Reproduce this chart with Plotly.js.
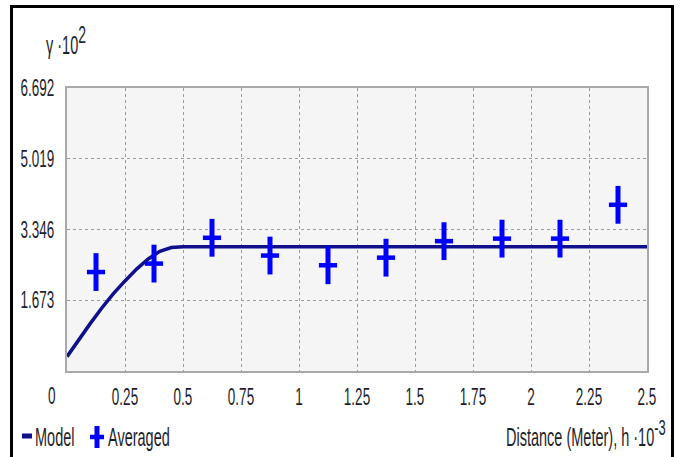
<!DOCTYPE html>
<html>
<head>
<meta charset="utf-8">
<script src="https://cdn.plot.ly/plotly-3.0.1.min.js"></script>
<style>
  html, body { margin: 0; padding: 0; background: #ffffff; }
  #wrap { position: relative; width: 682px; height: 457px; overflow: hidden; }
  #chart { position: absolute; left: 0; top: 0; width: 682px; height: 457px; }
  #frame { position: absolute; left: 10px; top: 5px; width: 664px; height: 470px;
           border: 3px solid #000; box-sizing: border-box; pointer-events: none; }
</style>
</head>
<body>
<div id="wrap">
  <div id="chart"></div>
  <div id="frame"></div>
</div>
<script>
// ---- data ----
var modelX = [0, 0.05, 0.1, 0.15, 0.2, 0.25, 0.3, 0.35, 0.4, 0.45, 0.5, 2.5];
var modelY = [0.34, 0.74, 1.12, 1.49, 1.83, 2.13, 2.41, 2.65, 2.83, 2.92, 2.94, 2.94];

var avgX = [0.125, 0.375, 0.625, 0.875, 1.125, 1.375, 1.625, 1.875, 2.125, 2.375];
var avgY = [2.34, 2.54, 3.15, 2.73, 2.50, 2.68, 3.07, 3.13, 3.13, 3.93];

var xTickVals = [0.25, 0.5, 0.75, 1, 1.25, 1.5, 1.75, 2, 2.25, 2.5];
var xTickText = ["0.25", "0.5", "0.75", "1", "1.25", "1.5", "1.75", "2", "2.25", "2.5"];
var yTickVals = [1.673, 3.346, 5.019, 6.692];
var yTickText = ["1.673", "3.346", "5.019", "6.692"];

var seriesNames = ["Model", "Averaged"];
var yTitle = "γ ·10<sup><span style=\"font-size:14px\">2</span></sup>";
var xTitle = "Distance (Meter), h ·10<sup><span style=\"font-size:13px\">-3</span></sup>";

// ---- styling ----
var FONT = "'Liberation Sans', Arial, sans-serif";
var FS = 13.5;
var TXT = "#1e1e2c";
var NAVY = "#10108c";
var BLUE = "#0000ff";
var STRETCH = 1.75;   // reference text is drawn tall and narrow

// plot area in pixels
var L = 67, R = 647, T = 88, B = 371;
function px(x) { return (x - L) / (R - L); }
function py(y) { return (B - y) / (B - T); }

var traces = [
  { x: modelX, y: modelY, type: "scatter", mode: "lines", name: seriesNames[0],
    line: { color: NAVY, width: 3.5 }, showlegend: false, hoverinfo: "x+y" },
  { x: avgX, y: avgY, type: "scatter", mode: "markers", name: seriesNames[1],
    marker: { symbol: "line-ns", size: 27, color: BLUE, line: { color: BLUE, width: 5 } },
    showlegend: false, hoverinfo: "x+y" },
  { x: avgX, y: avgY, type: "scatter", mode: "markers", name: seriesNames[1],
    marker: { symbol: "line-ew", size: 13, color: BLUE, line: { color: BLUE, width: 4.5 } },
    showlegend: false, hoverinfo: "skip" }
];

var tf = { family: FONT, size: FS, color: TXT };
var lf = { family: FONT, size: 14.5, color: TXT };

var layout = {
  width: 682, height: 457,
  margin: { l: L, r: 682 - R, t: T, b: 457 - B, pad: 0 },
  paper_bgcolor: "#ffffff",
  plot_bgcolor: "#f5f5f5",
  font: tf,
  showlegend: false,
  xaxis: {
    range: [0, 2.5], tickmode: "array", tickvals: xTickVals, ticktext: xTickText,
    showgrid: true, gridcolor: "#9c9c9c", griddash: "dot", gridwidth: 1,
    zeroline: false, showline: true, linecolor: "#a9a9a9", linewidth: 2, mirror: true,
    ticks: "outside", ticklen: 12, tickcolor: "rgba(0,0,0,0)",
    tickfont: tf, fixedrange: true
  },
  yaxis: {
    range: [0, 6.692], tickmode: "array", tickvals: yTickVals, ticktext: yTickText,
    showgrid: true, gridcolor: "#9c9c9c", griddash: "dot", gridwidth: 1,
    zeroline: false, showline: true, linecolor: "#a9a9a9", linewidth: 2, mirror: true,
    ticks: "outside", ticklen: 8, tickcolor: "rgba(0,0,0,0)",
    tickfont: tf, fixedrange: true
  },
  annotations: [
    { text: "0", xref: "paper", yref: "paper", x: px(52), y: py(396),
      xanchor: "center", yanchor: "middle", showarrow: false, font: tf },
    { text: yTitle, xref: "paper", yref: "paper", x: px(44), y: py(40),
      xanchor: "left", yanchor: "middle", showarrow: false, font: lf },
    { text: xTitle, xref: "paper", yref: "paper", x: px(668), y: py(432),
      xanchor: "right", yanchor: "middle", showarrow: false, font: lf },
    { text: seriesNames[0], xref: "paper", yref: "paper", x: px(33), y: py(437),
      xanchor: "left", yanchor: "middle", showarrow: false, font: lf },
    { text: seriesNames[1], xref: "paper", yref: "paper", x: px(106), y: py(437),
      xanchor: "left", yanchor: "middle", showarrow: false, font: lf }
  ],
  shapes: [
    // legend icons
    { type: "line", xref: "paper", yref: "paper", x0: px(22), x1: px(32), y0: py(436), y1: py(436),
      line: { color: NAVY, width: 5 } },
    { type: "line", xref: "paper", yref: "paper", x0: px(97), x1: px(97), y0: py(426), y1: py(448),
      line: { color: BLUE, width: 5 } },
    { type: "line", xref: "paper", yref: "paper", x0: px(90), x1: px(104), y0: py(437), y1: py(437),
      line: { color: BLUE, width: 4.5 } }
  ]
};

Plotly.newPlot("chart", traces, layout, { displayModeBar: false, staticPlot: true }).then(function (gd) {
  // stretch every text vertically about its own centre, as in the reference
  var texts = gd.querySelectorAll("svg text");
  texts.forEach(function (t) {
    if (!t.textContent) return;
    var bb;
    try { bb = t.getBBox(); } catch (e) { return; }
    if (!bb || !bb.height) return;
    var cy = bb.y + bb.height / 2;
    var prev = t.getAttribute("transform") || "";
    t.setAttribute("transform", prev + " translate(0," + cy + ") scale(1," + STRETCH + ") translate(0," + (-cy) + ")");
  });
});
</script>
</body>
</html>
